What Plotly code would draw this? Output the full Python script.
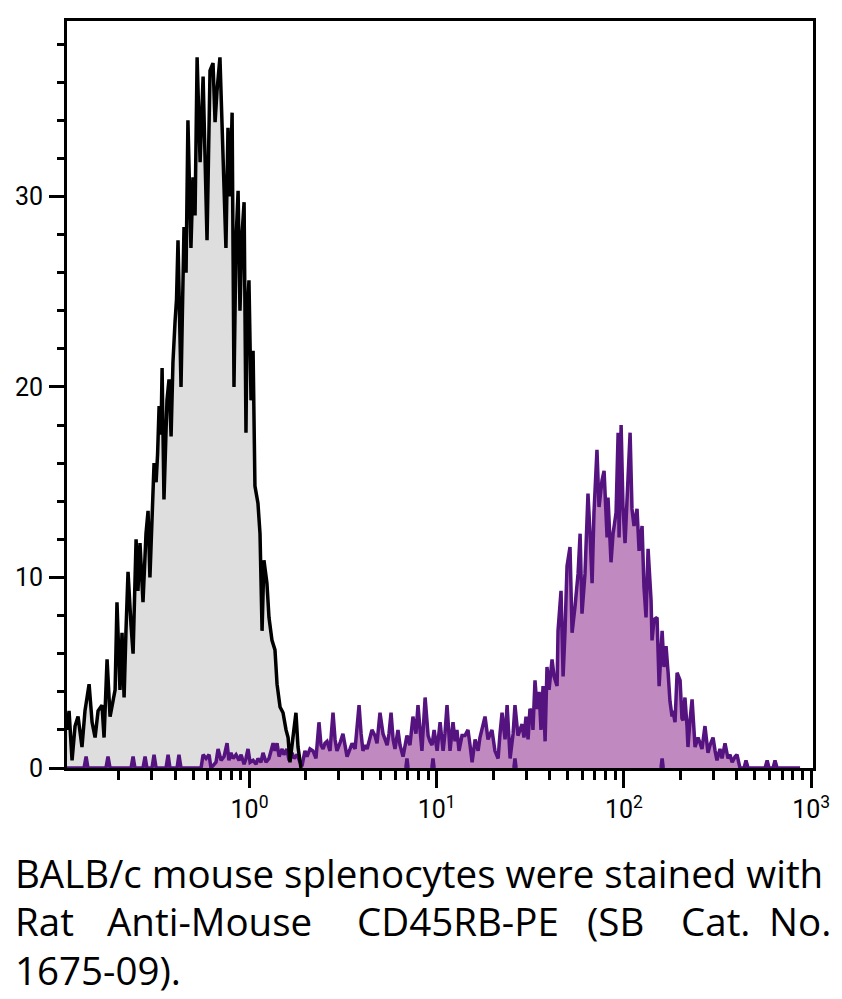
import numpy as np
import plotly.graph_objects as go

# ---------------- data (log10 intensity, count) ----------------
gray_log = [-0.975, -0.964, -0.948, -0.932, -0.916, -0.895, -0.879, -0.857, -0.841, -0.825,
            -0.809, -0.788, -0.777, -0.761, -0.745, -0.729, -0.718, -0.708, -0.692, -0.681,
            -0.670, -0.660, -0.649, -0.633, -0.622, -0.606, -0.596, -0.585, -0.569, -0.553,
            -0.542, -0.532, -0.521, -0.510, -0.499, -0.491, -0.483, -0.473, -0.467, -0.457,
            -0.441, -0.430, -0.419, -0.409, -0.398, -0.390, -0.382, -0.366, -0.350, -0.339,
            -0.329, -0.313, -0.302, -0.291, -0.280, -0.264, -0.248, -0.238, -0.227, -0.211,
            -0.195, -0.184, -0.174, -0.158, -0.142, -0.126, -0.115, -0.104, -0.093, -0.083,
            -0.072, -0.061, -0.051, -0.040, -0.029, -0.019, -0.013, -0.003, 0.008, 0.019,
            0.029, 0.045, 0.056, 0.067, 0.077, 0.093, 0.104, 0.120, 0.136, 0.147,
            0.163, 0.179, 0.195, 0.206, 0.216, 0.232, 0.248, 0.259, 0.270, 0.275]
gray_count = [2.0, 3.0, 0.4, 2.2, 2.7, 1.1, 3.0, 4.4, 2.4, 1.6,
              3.0, 3.3, 1.6, 5.7, 2.7, 3.7, 4.1, 8.7, 4.1, 7.1,
              3.7, 7.2, 10.3, 7.5, 6.0, 12.0, 9.3, 11.8, 8.7, 12.3,
              13.5, 10.0, 13.7, 16.0, 15.0, 16.5, 19.0, 17.5, 21.0, 14.1,
              19.3, 20.4, 17.4, 21.3, 23.4, 24.6, 27.7, 20.0, 28.4, 26.0,
              34.0, 27.3, 31.0, 29.0, 37.3, 31.8, 36.3, 32.0, 27.7, 36.6,
              37.0, 33.9, 35.5, 37.3, 31.8, 27.3, 33.6, 30.0, 34.4, 20.0,
              27.7, 30.3, 24.0, 28.0, 29.7, 17.6, 23.7, 25.6, 19.3, 21.9,
              14.8, 13.9, 12.3, 7.2, 10.9, 9.7, 7.9, 6.7, 6.2, 4.4,
              3.2, 2.9, 2.0, 1.6, 0.3, 1.5, 2.9, 1.1, 0.3, 0.0]

purple_log = [-0.975, -0.884, -0.873, -0.863, -0.767, -0.756, -0.745, -0.633, -0.622, -0.612,
              -0.569, -0.558, -0.548, -0.521, -0.510, -0.499, -0.446, -0.435, -0.425, -0.387,
              -0.377, -0.366, -0.259, -0.248, -0.232, -0.216, -0.206, -0.179, -0.168, -0.152,
              -0.136, -0.120, -0.110, -0.099, -0.088, -0.072, -0.056, -0.045, -0.029, -0.019,
              -0.008, 0.003, 0.019, 0.035, 0.045, 0.061, 0.072, 0.088, 0.104, 0.115,
              0.126, 0.136, 0.147, 0.158, 0.174, 0.184, 0.200, 0.211, 0.227, 0.238,
              0.254, 0.270, 0.280, 0.296, 0.307, 0.323, 0.339, 0.355, 0.371, 0.382,
              0.393, 0.403, 0.414, 0.430, 0.446, 0.457, 0.467, 0.483, 0.499, 0.510,
              0.521, 0.537, 0.548, 0.564, 0.574, 0.585, 0.596, 0.606, 0.617, 0.628,
              0.644, 0.654, 0.670, 0.681, 0.697, 0.713, 0.724, 0.735, 0.745, 0.756,
              0.767, 0.777, 0.793, 0.804, 0.820, 0.831, 0.841, 0.857, 0.873, 0.889,
              0.900, 0.911, 0.921, 0.938, 0.954, 0.964, 0.975, 0.986, 1.002, 1.018,
              1.034, 1.044, 1.055, 1.071, 1.087, 1.098, 1.108, 1.119, 1.135, 1.151,
              1.167, 1.178, 1.189, 1.205, 1.221, 1.231, 1.242, 1.258, 1.274, 1.285,
              1.295, 1.311, 1.328, 1.338, 1.349, 1.365, 1.376, 1.392, 1.408, 1.418,
              1.434, 1.445, 1.456, 1.466, 1.477, 1.488, 1.498, 1.509, 1.514, 1.525,
              1.536, 1.547, 1.557, 1.568, 1.579, 1.589, 1.600, 1.616, 1.627, 1.643,
              1.648, 1.664, 1.675, 1.685, 1.696, 1.712, 1.723, 1.739, 1.755, 1.766,
              1.776, 1.792, 1.808, 1.819, 1.830, 1.840, 1.856, 1.867, 1.883, 1.894,
              1.910, 1.915, 1.931, 1.942, 1.958, 1.969, 1.974, 1.985, 1.995, 2.006,
              2.017, 2.033, 2.043, 2.054, 2.070, 2.081, 2.097, 2.107, 2.118, 2.129,
              2.145, 2.150, 2.161, 2.177, 2.188, 2.204, 2.214, 2.225, 2.236, 2.246,
              2.257, 2.262, 2.273, 2.284, 2.300, 2.310, 2.316, 2.326, 2.337, 2.342,
              2.353, 2.364, 2.380, 2.396, 2.407, 2.417, 2.433, 2.449, 2.460, 2.476,
              2.487, 2.497, 2.513, 2.524, 2.540, 2.556, 2.567, 2.578, 2.594, 2.604,
              2.620, 2.642, 2.652, 2.663, 2.754, 2.765, 2.775, 2.797, 2.807, 2.818,
              2.941]
purple_count = [0, 0, 0.6, 0, 0, 0.6, 0, 0, 0.6, 0,
                0, 0.6, 0, 0, 0.7, 0, 0, 0.7, 0, 0,
                0.7, 0, 0, 0.7, 0.5, 0.7, 0, 0.3, 1.0, 0.4,
                0.6, 1.3, 0.4, 0.8, 0.5, 0.7, 0.4, 0.7, 0.2, 0.5,
                1.0, 0.3, 0.4, 0.2, 0.5, 0.3, 0.8, 0.3, 0.5, 0.9,
                1.3, 0.9, 1.3, 0.6, 1.0, 0.7, 1.0, 0.4, 0.8, 0.5,
                0.7, 0.3, 0.1, 0.9, 0.6, 1.0, 0.9, 0.5, 2.4, 1.2,
                1.0, 1.3, 1.4, 0.9, 2.9, 1.5, 0.9, 1.3, 1.8, 1.2,
                0.6, 1.0, 1.3, 1.0, 2.0, 3.3, 1.8, 0.9, 1.2, 1.0,
                1.6, 2.0, 1.7, 1.3, 2.9, 1.8, 1.5, 1.2, 1.8, 2.9,
                1.5, 1.0, 2.0, 1.2, 0.6, 1.2, 1.7, 1.2, 2.7, 1.8,
                3.3, 2.0, 0.9, 3.7, 1.7, 1.4, 1.2, 2.0, 0.9, 2.4,
                0.9, 1.8, 3.3, 0.9, 2.4, 1.4, 2.0, 0.9, 1.7, 1.7,
                2.0, 1.2, 0.3, 1.5, 0.9, 1.6, 2.0, 2.7, 1.5, 1.8,
                2.0, 0.9, 0.5, 1.8, 2.9, 1.5, 3.3, 0.5, 1.8, 3.3,
                1.7, 2.0, 2.3, 1.6, 2.7, 1.5, 3.1, 2.9, 2.0, 4.6,
                3.1, 4.0, 2.0, 4.3, 1.4, 5.3, 4.1, 5.7, 4.8, 4.3,
                7.2, 9.3, 4.8, 7.1, 10.6, 11.6, 7.1, 8.5, 10.2, 12.3,
                8.1, 10.2, 14.4, 12.3, 9.7, 13.4, 16.7, 13.7, 15.1, 15.6,
                12.1, 14.2, 10.8, 12.3, 13.4, 17.6, 12.1, 18.0, 13.7, 11.8,
                14.6, 17.6, 13.6, 12.7, 13.6, 11.4, 12.7, 9.5, 7.9, 11.5,
                8.8, 6.7, 7.8, 7.9, 4.3, 7.2, 5.3, 6.4, 5.0, 3.5,
                2.7, 3.0, 2.4, 5.0, 4.6, 2.6, 2.5, 3.7, 2.2, 1.1,
                2.5, 3.6, 1.1, 1.6, 1.3, 1.0, 2.2, 0.8, 1.2, 1.6,
                0.9, 0.4, 1.0, 0.5, 1.3, 0.5, 0.7, 0.3, 0.6, 0.7,
                0, 0, 0.4, 0, 0, 0.4, 0, 0, 0.4, 0,
                0]

# isolated single events sitting on the baseline
blob_log = [0.841, 0.980, 1.418, 2.204]
blob_count = [0.5, 0.5, 0.5, 0.5]

x_tick_vals = [1, 10, 100, 1000]
x_tick_text = ["10<sup>0</sup>", "10<sup>1</sup>", "10<sup>2</sup>", "10<sup>3</sup>"]
x_minor_vals = [m * d for d in (0.1, 1, 10, 100) for m in range(2, 10)]
y_tick_vals = [0, 10, 20, 30]

caption_line1 = "BALB/c mouse splenocytes were stained with"
caption_line2_words = ["Rat", "Anti-Mouse", "CD45RB-PE", "(SB", "Cat.", "No."]
caption_line3 = "1675-09)."

# ---------------- figure ----------------
W, H = 842, 999
ML, MR, MT, MB = 67, 29, 21, 231
PW, PH = W - ML - MR, H - MT - MB

GRAY_FILL = "#dedede"
PURPLE_FILL = "#c08ac0"
PURPLE_LINE = "#55137f"
FONT = "Roboto"
CAP_FONT = "Open Sans"
LW = 3.5

gx = [10 ** v for v in gray_log]
px = [10 ** v for v in purple_log]
bx, by = [], []
for c, h in zip(blob_log, blob_count):
    bx += [10 ** (c - 0.006), 10 ** c, 10 ** (c + 0.006), None]
    by += [0, h, 0, None]

fig = go.Figure()
fig.add_trace(go.Scatter(x=gx, y=gray_count, mode="lines", fill="tozeroy",
                         fillcolor=GRAY_FILL, line=dict(width=0, color=GRAY_FILL),
                         hoverinfo="skip"))
fig.add_trace(go.Scatter(x=px, y=purple_count, mode="lines", fill="tozeroy",
                         fillcolor=PURPLE_FILL, line=dict(width=LW, color=PURPLE_LINE)))
fig.add_trace(go.Scatter(x=bx, y=by, mode="lines", line=dict(width=LW, color=PURPLE_LINE)))
fig.add_trace(go.Scatter(x=gx, y=gray_count, mode="lines",
                         line=dict(width=LW, color="black")))


def xp(pxl):
    return (pxl - ML) / PW


def yp(pyl):
    return (H - MB - pyl) / PH


cap_font = dict(family=CAP_FONT, size=38.5, color="black")
ann = [
    dict(text=caption_line1, x=xp(13), y=yp(873), xanchor="left"),
    dict(text=caption_line3, x=xp(13), y=yp(970), xanchor="left"),
]
line2_pos = [13, 105, 355, 585, 679]
for w, p in zip(caption_line2_words[:-1], line2_pos):
    ann.append(dict(text=w, x=xp(p), y=yp(921), xanchor="left"))
ann.append(dict(text=caption_line2_words[-1], x=xp(833), y=yp(921), xanchor="right"))
for a in ann:
    a.update(xref="paper", yref="paper", yanchor="middle", showarrow=False, font=cap_font)

fig.update_layout(
    width=W, height=H,
    margin=dict(l=ML, r=MR, t=MT, b=MB, pad=0),
    paper_bgcolor="white", plot_bgcolor="white",
    showlegend=False,
    annotations=ann,
    font=dict(family=FONT, size=25, color="black"),
)
fig.update_xaxes(
    type="log", range=[-0.975, 3.010],
    showgrid=False, zeroline=False,
    showline=True, linecolor="black", linewidth=3, mirror=True,
    ticks="outside", ticklen=17, tickwidth=3, tickcolor="black",
    tickmode="array", tickvals=x_tick_vals, ticktext=x_tick_text,
    tickfont=dict(family=FONT, size=25, color="black"),
    minor=dict(tickmode="array", tickvals=x_minor_vals, ticks="outside",
               ticklen=9, tickwidth=3, tickcolor="black", showgrid=False),
)
fig.update_yaxes(
    range=[0, 39.21],
    showgrid=False, zeroline=False,
    showline=True, linecolor="black", linewidth=3, mirror=True,
    ticks="outside", ticklen=15, tickwidth=3, tickcolor="black",
    tickmode="array", tickvals=y_tick_vals,
    tickfont=dict(family=FONT, size=25, color="black"),
    ticklabelstandoff=1,
    minor=dict(dtick=2, ticks="outside", ticklen=7, tickwidth=3,
               tickcolor="black", showgrid=False),
)

fig.write_html("out.html")
